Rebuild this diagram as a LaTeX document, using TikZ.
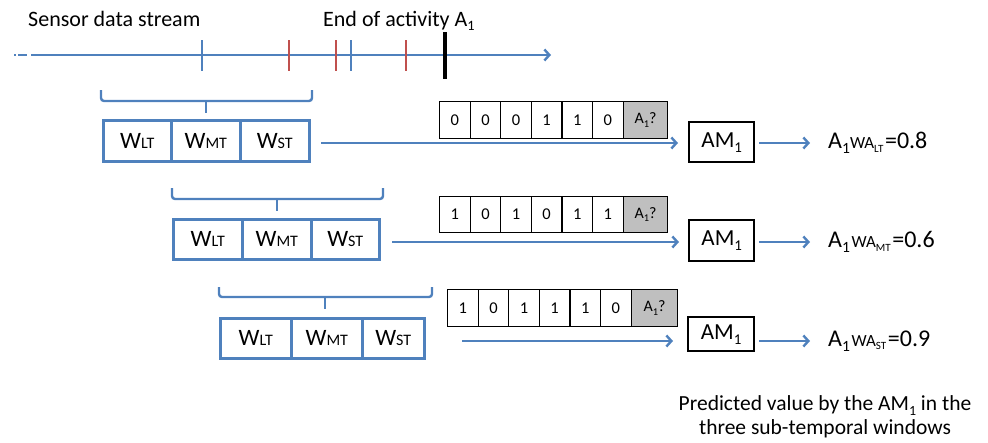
\documentclass[tikz,border=0pt]{standalone}
\usepackage{fontspec}
\setmainfont{Carlito}
\usetikzlibrary{arrows.meta,calc}
\definecolor{blu}{RGB}{79,129,189}
\definecolor{rd}{RGB}{192,80,77}
\definecolor{gry}{RGB}{191,191,191}
\newcommand{\fs}[1]{\fontsize{#1}{#1}\selectfont}
\newcommand{\lsub}[1]{\raisebox{-0.22em}{\scalebox{0.65}{#1}}}
\newcommand{\wlab}[1]{{\fs{23.5}W}{\fs{16}#1}}
\newcommand{\brc}[6]{%
  \draw[bl,rounded corners=3pt] (#1,#3) -- (#1,#4) -- (#2,#4) -- (#2,#3);
  \draw[bl] (#5,#4) -- (#5,#6);}
\begin{document}
\begin{tikzpicture}[x=1pt,y=-1pt,
  bl/.style={draw=blu,line width=2.4pt},
  arr/.style={blu,line width=2.4pt,-{Straight Barb[length=5pt,width=11pt]}},
  wbox/.style={draw=blu,line width=2.6pt,minimum height=41pt,inner sep=0pt,anchor=north west},
  cell/.style={draw=black,line width=1.1pt,minimum height=37pt,inner sep=0pt,anchor=north west,font=\fs{16.5}},
  gcell/.style={cell,fill=gry,font=\fs{16}},
  ambox/.style={draw=black,line width=2.4pt,minimum width=65pt,minimum height=40pt,inner sep=0pt,anchor=north west,font=\fs{23}},
  res/.style={anchor=west,inner sep=0pt},
  tk/.style={line width=2.4pt}
]
\useasboundingbox (0,0) rectangle (988,442);

% ---- timeline
\node[font=\fs{22},anchor=base west,inner sep=0pt] (sds) at (28,26) {Sensor data stream};
\node[font=\fs{22},anchor=base west,inner sep=0pt] (eoa) at (323,26) {End of activity A\lsub{1}};
\coordinate (t0) at (31,55);
\coordinate (t1) at (551,55);
\draw[arr] (t0) -- (t1);
\draw[blu,line width=2.4pt] (14,55) -- (16,55) (18,55) -- (27,55);
\draw[blu,tk] (202,40) -- (202,71);
\draw[rd,tk] (289,40) -- (289,71);
\draw[rd,tk] (336,40) -- (336,71);
\draw[blu,tk] (351,40) -- (351,71);
\draw[rd,tk] (406,40) -- (406,71);
\draw[black,line width=3.6pt] (445,32) -- (445,79);

% ---- row 1
\brc{101}{312}{90}{101}{206}{113}
\node[wbox,minimum width=68pt] (lt1) at (102,119) {\wlab{LT}};
\node[wbox,minimum width=69pt] (mt1) at (170,119) {\wlab{MT}};
\node[wbox,minimum width=69pt] (st1) at (239,119) {\wlab{ST}};
\foreach \v [count=\i] in {0,0,0,1,1,0}
  \node[cell,minimum width=30.6pt] (c1-\i) at ({439+(\i-1)*30.6},101) {\v};
\node[gcell,minimum width=44pt] (c1-7) at (623,101) {A\lsub{1}?};
\node[ambox] (am1) at (688,121) {AM\lsub{1}};
\node[res] (r1) at (828,143) {{\fs{24}A\lsub{1}}{\fs{17}WA\lsub{LT}}\,{\fs{24}=0.8}};
\coordinate (s1) at (321,143);
\draw[arr,shorten >=10pt] (s1) -- (s1 -| am1.west);
\draw[arr,shorten <=4pt,shorten >=18pt] (am1.east |- r1.west) -- (r1.west);

% ---- row 2
\brc{172}{383}{188}{199}{277}{211}
\node[wbox,minimum width=69pt,minimum height=40pt] (lt2) at (172,218) {\wlab{LT}};
\node[wbox,minimum width=69pt,minimum height=40pt] (mt2) at (241,218) {\wlab{MT}};
\node[wbox,minimum width=68pt,minimum height=40pt] (st2) at (310,218) {\wlab{ST}};
\foreach \v [count=\i] in {1,0,1,0,1,1}
  \node[cell,minimum width=30.6pt,minimum height=36pt] (c2-\i) at ({439+(\i-1)*30.6},196) {\v};
\node[gcell,minimum width=44pt,minimum height=36pt] (c2-7) at (623,196) {A\lsub{1}?};
\node[ambox,minimum height=41pt] (am2) at (688,219) {AM\lsub{1}};
\node[res] (r2) at (828,242) {{\fs{24}A\lsub{1}}\,{\fs{17}WA\lsub{MT}}\,{\fs{24}=0.6}};
\coordinate (s2) at (392,242);
\draw[arr,shorten >=9pt] (s2) -- (s2 -| am2.west);
\draw[arr,shorten <=4pt,shorten >=18pt] (am2.east |- r2.west) -- (r2.west);

% ---- row 3
\brc{219}{432}{287}{297}{325}{309}
\node[wbox,minimum width=71pt,minimum height=40pt] (lt3) at (219,317) {\wlab{LT}};
\node[wbox,minimum width=71pt,minimum height=40pt] (mt3) at (290,317) {\wlab{MT}};
\node[wbox,minimum width=62pt,minimum height=40pt] (st3) at (361,317) {\wlab{ST}};
\foreach \v [count=\i] in {1,0,1,1,1,0}
  \node[cell,minimum width=30.6pt] (c3-\i) at ({447+(\i-1)*30.6},289) {\v};
\node[gcell,minimum width=46pt] (c3-7) at (631,289) {A\lsub{1}?};
\node[ambox,minimum width=66pt,minimum height=34pt] (am3) at (687,316) {AM\lsub{1}};
\node[res] (r3) at (828,341) {{\fs{24}A\lsub{1}}\,{\fs{17}WA\lsub{ST}}\,{\fs{24}=0.9}};
\coordinate (s3) at (462,341);
\draw[arr,shorten >=14pt] (s3) -- (s3 -| am3.west);
\draw[arr,shorten <=4pt,shorten >=18pt] (am3.east |- r3.west) -- (r3.west);

% ---- caption
\node[align=center,font=\fontsize{21.5}{24}\selectfont,inner sep=0pt] (cap) at (825,417)
  {Predicted value by the AM\lsub{1} in the\\three sub-temporal windows};
\end{tikzpicture}
\end{document}
